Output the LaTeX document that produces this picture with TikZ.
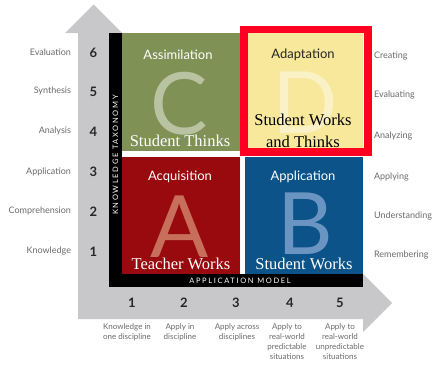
\documentclass[tikz,border=0pt]{standalone}
\usepackage{fontspec}
\setmainfont{Liberation Serif}
\newfontfamily\sansf{Lato}
\newfontfamily\spacedf[LetterSpace=22]{Lato}
\definecolor{arrowgray}{HTML}{C8C8CA}
\definecolor{labgray}{HTML}{6A6A6A}
\definecolor{qgreen}{HTML}{7F9155}
\definecolor{qred}{HTML}{990A0E}
\definecolor{qblue}{HTML}{0B5388}
\definecolor{qyellow}{HTML}{F7E89C}
\definecolor{lgreen}{HTML}{B9C3A1}
\definecolor{lred}{HTML}{C86F5C}
\definecolor{lblue}{HTML}{6A95C2}
\definecolor{lyellow}{HTML}{FBF1C6}
\definecolor{frame}{HTML}{FF0022}
\begin{document}
\begin{tikzpicture}[x=1pt,y=-1pt,
  every node/.style={inner sep=0pt,outer sep=0pt},
  leftlab/.style={anchor=east,text=labgray,font=\sansf\fontsize{9}{10}\selectfont},
  rightlab/.style={anchor=west,text=labgray,font=\sansf\fontsize{9}{10}\selectfont},
  num/.style={text=black!85,font=\sansf\bfseries\fontsize{13}{14}\selectfont},
  botlab/.style={anchor=north,align=center,text=labgray,font=\sansf\fontsize{8}{10}\selectfont},
  qtitle/.style={text=white,font=\sansf\fontsize{13}{15}\selectfont},
  bigletter/.style={anchor=base,font=\sansf\fontsize{86}{90}\selectfont},
  qlab/.style={anchor=base,text=white,font=\fontsize{16.5}{22}\selectfont},
  barlab/.style={text=white,font=\spacedf\fontsize{7.5}{8}\selectfont}]
\useasboundingbox (0,0) rectangle (433,367);
% gray L arrow
\fill[arrowgray] (78,319) -- (78,33) -- (65,33) -- (93.5,4.5) -- (122,33) -- (122,274)
  -- (363,274) -- (392,303) -- (363,332) -- (363,319) -- cycle;
% black bars
\fill[black] (109,33) rectangle (122,287);
\fill[black] (109,274) rectangle (363,287);
% quadrants
\fill[qgreen] (122,33) rectangle (240,151);
\fill[qred] (122,157) rectangle (240,274);
\fill[qblue] (245,157) rectangle (363,274);
\fill[qyellow] (245,33) rectangle (363,151);
% big letters
\node[bigletter,text=lgreen] (bigC) at (179,134) {C};
\node[bigletter,text=lred] (bigA) at (180,257) {A};
\node[bigletter,text=lblue] (bigB) at (305,254) {B};
\node[bigletter,text=lyellow] (bigD) at (305,133) {D};
% quadrant titles
\node[qtitle] (tC) at (178,55) {Assimilation};
\node[qtitle] (tA) at (180,177) {Acquisition};
\node[qtitle] (tB) at (303,177) {Application};
\node[qtitle,text=black!85] (tD) at (303,55) {Adaptation};
% quadrant labels
\node[qlab] (sC) at (180,146) {Student Thinks};
\node[qlab] (sA) at (181,269) {Teacher Works};
\node[qlab] (sB) at (304,269) {Student Works};
\node[qlab,text=black,align=center,anchor=north] (sD) at (303,114) {Student Works\\and Thinks};
% red frame
\draw[frame,line width=7.5pt] (244,29.5) rectangle (368,152);
% bar labels
\node[barlab,rotate=90] (kt) at (115.5,155) {KNOWLEDGE TAXONOMY};
\node[barlab] (am) at (240,280.5) {APPLICATION MODEL};
% left labels and numbers
\node[leftlab] (l6) at (71,52) {Evaluation};
\node[leftlab] (l5) at (71,91) {Synthesis};
\node[leftlab] (l4) at (71,131) {Analysis};
\node[leftlab] (l3) at (71,172) {Application};
\node[leftlab] (l2) at (71,211) {Comprehension};
\node[leftlab] (l1) at (71,251) {Knowledge};
\node[num] (n6) at (93.5,52.5) {6};
\node[num] (n5) at (93.5,92) {5};
\node[num] (n4) at (93.5,132) {4};
\node[num] (n3) at (93.5,172) {3};
\node[num] (n2) at (93.5,212) {2};
\node[num] (n1) at (93.5,251.5) {1};
% right labels
\node[rightlab] (r6) at (374,56) {Creating};
\node[rightlab] (r5) at (374,95) {Evaluating};
\node[rightlab] (r4) at (374,136) {Analyzing};
\node[rightlab] (r3) at (374,177) {Applying};
\node[rightlab] (r2) at (374,216) {Understanding};
\node[rightlab] (r1) at (374,255) {Remembering};
% bottom numbers
\node[num] (b1) at (132,303) {1};
\node[num] (b2) at (184,303) {2};
\node[num] (b3) at (236,303) {3};
\node[num] (b4) at (290,303) {4};
\node[num] (b5) at (340,303) {5};
% bottom labels
\node[botlab] (d1) at (127,324) {Knowledge in\\one discipline};
\node[botlab] (d2) at (180,324) {Apply in\\discipline};
\node[botlab] (d3) at (237,324) {Apply across\\disciplines};
\node[botlab] (d4) at (287,324) {Apply to\\real-world\\predictable\\situations};
\node[botlab] (d5) at (340,324) {Apply to\\real-world\\unpredictable\\situations};
\end{tikzpicture}
\end{document}
